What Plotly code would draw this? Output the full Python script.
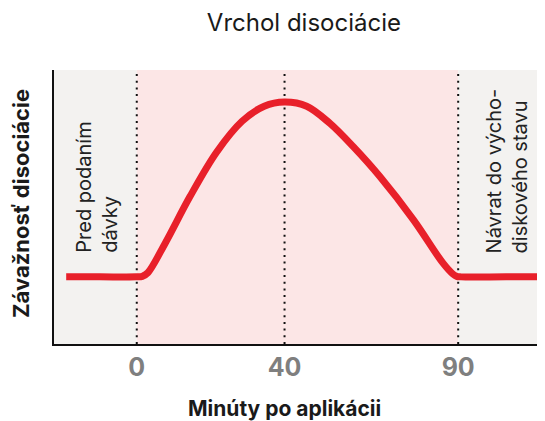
import plotly.graph_objects as go

# phase boundaries (minutes, schematic axis) and their labels
phase_x = [0, 40, 87]
tick_text = ["0", "40", "90"]

# severity curve
curve_x = [-19.1, -10, 0, 1.5, 3.0, 7.7, 14.4, 21.6, 28.5, 34.5, 40,
           46.0, 52.3, 58.6, 65.8, 74.9, 82.9, 85.6, 86.6, 87.8, 100, 112]
curve_y = [2.45, 2.45, 2.45, 2.47, 2.6, 3.68, 5.38, 7.0, 8.13, 8.68, 8.83,
           8.68, 8.05, 7.2, 6.11, 4.53, 2.95, 2.55, 2.47, 2.45, 2.45, 2.45]

x_range = [-22.4, 110.5]
y_range = [0, 10]

fig = go.Figure()

fig.add_trace(go.Scatter(
    x=curve_x,
    y=curve_y,
    mode="lines",
    line=dict(color="#e8202a", width=7, shape="spline", smoothing=1.0),
    hoverinfo="skip",
    showlegend=False
))

# background bands
bands = [
    (x_range[0], phase_x[0], "#f3f2f0"),
    (phase_x[0], phase_x[2], "#fce6e6"),
    (phase_x[2], x_range[1], "#f3f2f0"),
]
for x0, x1, col in bands:
    fig.add_shape(type="rect", xref="x", yref="paper", x0=x0, x1=x1, y0=0, y1=1,
                  fillcolor=col, line_width=0, layer="below")

# dotted phase lines
for xv in phase_x:
    fig.add_shape(type="line", xref="x", yref="paper", x0=xv, x1=xv, y0=0, y1=1,
                  line=dict(color="#111111", width=2, dash="2px,4.7px"), layer="below")

fig.add_annotation(
    text="Pred podaním<br>dávky", xref="x", yref="y", x=-10.7, y=3.25,
    textangle=-90, align="left", xanchor="center", yanchor="bottom",
    showarrow=False, font=dict(family="Inter", size=20, color="#222222")
)
fig.add_annotation(
    text="Návrat do výcho-<br>diskového stavu", xref="x", yref="y", x=100.2, y=3.25,
    textangle=-90, align="left", xanchor="center", yanchor="bottom",
    showarrow=False, font=dict(family="Inter", size=20, color="#222222")
)

# axis titles
fig.add_annotation(
    text="<b>Závažnosť disociácie</b>", xref="paper", yref="paper",
    x=-0.0672, y=0.511, xanchor="center", yanchor="middle",
    textangle=-90, showarrow=False,
    font=dict(family="Inter", size=22, color="#1a1a1a")
)
fig.add_annotation(
    text="<b>Minúty po aplikácii</b>", xref="x", yref="paper",
    x=40, y=-0.235, xanchor="center", yanchor="middle", showarrow=False,
    font=dict(family="Inter", size=21, color="#1a1a1a")
)

# the page body adds an 8px margin, so the figure is 8px smaller
fig.update_layout(
    width=537,
    height=413,
    margin=dict(l=46, r=0, t=62, b=77),
    paper_bgcolor="white",
    plot_bgcolor="white",
    title=dict(
        text="Vrchol disociácie",
        x=0.509, xref="paper", xanchor="center",
        y=1 - 15 / 413, yref="container", yanchor="middle",
        font=dict(family="Inter", size=24, color="#1a1a1a")
    ),
    xaxis=dict(
        range=x_range,
        tickvals=phase_x,
        ticktext=tick_text,
        tickfont=dict(family="Inter", size=25, color="#7f7f7f", weight="bold"),
        ticks="",
        ticklabelstandoff=0,
        showgrid=False,
        zeroline=False,
        showline=True,
        linecolor="#111111",
        linewidth=2,
        fixedrange=True
    ),
    yaxis=dict(
        range=y_range,
        showticklabels=False,
        ticks="",
        showgrid=False,
        zeroline=False,
        showline=True,
        linecolor="#111111",
        linewidth=2,
        fixedrange=True
    )
)

fig.write_html("out.html")
